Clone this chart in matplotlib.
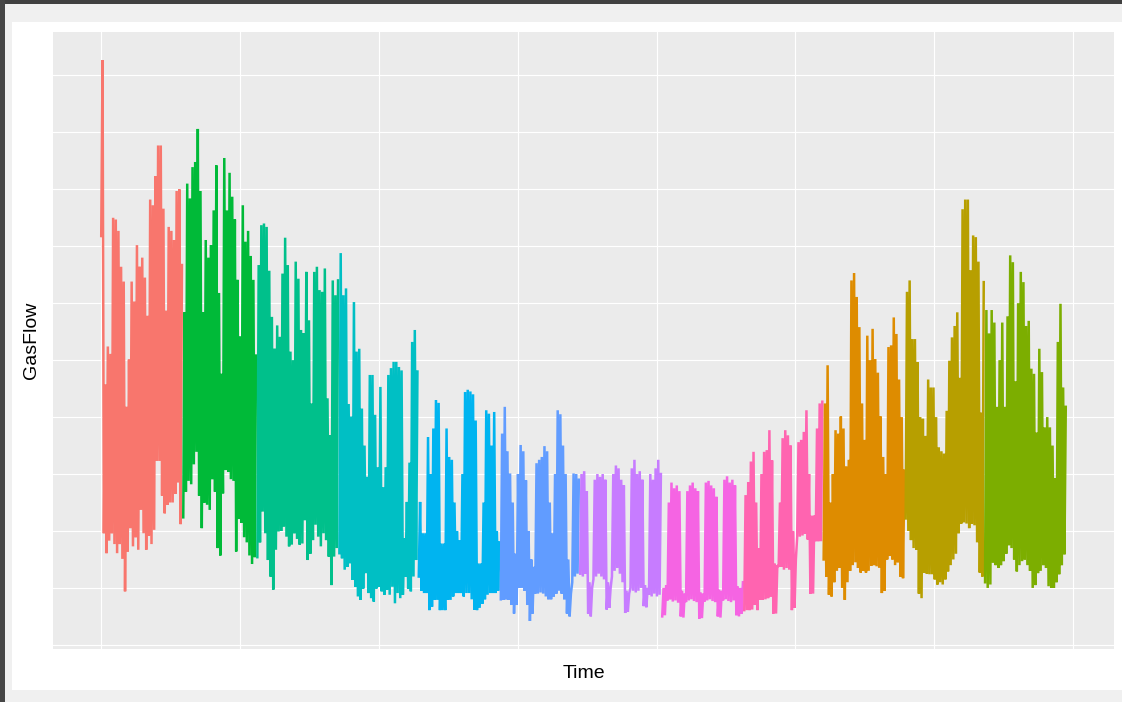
import matplotlib
matplotlib.use("Agg")
import matplotlib.pyplot as plt
from matplotlib.patches import Rectangle
import numpy as np

plt.rcParams['font.family'] = ['Liberation Sans', 'DejaVu Sans']

# daily lows / highs of gas flow, one list per month
jan_low = [718, 196, 161, 183, 196, 177, 161, 177, 151, 94, 164, 205, 173, 189, 167, 237,
           196, 167, 192, 177, 202, 323, 323, 262, 231, 246, 250, 250, 265, 285, 212]
jan_high = [1027, 457, 524, 511, 750, 747, 727, 664, 638, 418, 501, 638, 603, 702, 664, 680,
            645, 578, 782, 772, 823, 877, 877, 766, 587, 734, 727, 711, 797, 800, 667]
feb_low = [224, 269, 288, 282, 317, 339, 262, 205, 250, 246, 237, 291, 269, 170, 157, 266,
           307, 304, 291, 288, 164, 221, 214, 189, 180, 157, 142, 154]
feb_high = [584, 810, 784, 839, 848, 906, 797, 584, 711, 680, 702, 763, 842, 618, 476, 855,
            763, 829, 787, 747, 641, 542, 772, 708, 727, 683, 641, 508]
mar_low = [154, 180, 234, 196, 149, 120, 97, 167, 199, 200, 208, 190, 173, 176, 196, 186,
           176, 178, 219, 149, 160, 184, 211, 190, 173, 196, 184, 155, 105, 155, 170]
mar_high = [667, 737, 740, 734, 657, 576, 520, 561, 541, 652, 715, 667, 515, 500, 673, 643,
            553, 547, 655, 570, 424, 655, 664, 623, 620, 661, 433, 368, 640, 614, 640]
apr_low = [161, 152, 132, 137, 143, 114, 102, 85, 79, 99, 126, 91, 82, 76, 99, 102,
           94, 88, 97, 88, 102, 73, 91, 82, 88, 120, 99, 94, 120, 149]
apr_high = [688, 614, 626, 423, 401, 602, 515, 520, 415, 350, 295, 474, 474, 404, 312, 453,
            277, 312, 474, 486, 497, 497, 488, 482, 187, 251, 320, 532, 553, 480]
may_low = [120, 95, 91, 91, 61, 67, 79, 79, 61, 61, 61, 79, 79, 85, 91, 91,
           91, 85, 91, 91, 80, 62, 61, 65, 72, 80, 88, 91, 91, 91, 95]
may_high = [251, 196, 196, 365, 300, 380, 430, 425, 178, 178, 380, 330, 325, 250, 200, 184,
            300, 444, 448, 445, 440, 394, 143, 143, 250, 412, 406, 350, 409, 200, 180]
jun_low = [80, 79, 80, 79, 70, 55, 70, 100, 100, 95, 70, 42, 55, 90, 90,
           92, 90, 85, 80, 80, 85, 90, 95, 90, 80, 55, 50, 110, 120, 125]
jun_high = [371, 418, 340, 301, 250, 160, 300, 351, 340, 289, 200, 150, 137, 319, 325,
            330, 349, 340, 250, 196, 300, 412, 405, 350, 300, 150, 90, 301, 300, 290]
jul_low = [125, 120, 125, 55, 50, 115, 120, 125, 120, 115, 62, 65, 120, 130, 135, 125,
           110, 56, 58, 100, 95, 92, 95, 100, 68, 66, 88, 85, 90, 85, 88]
jul_high = [300, 305, 270, 110, 100, 290, 300, 295, 300, 290, 110, 100, 300, 315, 310, 290,
            280, 95, 90, 310, 325, 300, 305, 290, 105, 100, 300, 290, 310, 325, 300]
aug_low = [50, 52, 78, 80, 76, 78, 74, 50, 48, 75, 78, 80, 77, 75, 46, 47,
           76, 78, 80, 77, 75, 50, 48, 78, 80, 77, 75, 78, 52, 50, 55]
aug_high = [100, 105, 250, 285, 275, 280, 270, 95, 90, 270, 280, 285, 275, 270, 92, 90,
            285, 288, 280, 275, 260, 97, 95, 290, 296, 285, 290, 280, 103, 100, 110]
sep_low = [61, 61, 61, 62, 70, 61, 79, 79, 80, 82, 85, 55, 55, 137, 137,
           132, 135, 132, 61, 65, 190, 190, 192, 195, 185, 90, 90, 182, 182, 182]
sep_high = [263, 286, 322, 339, 250, 170, 300, 339, 342, 377, 324, 143, 140, 250, 363,
            377, 368, 350, 200, 150, 356, 360, 374, 412, 300, 227, 227, 380, 424, 427]
oct_low = [150, 120, 88, 85, 110, 130, 135, 100, 79, 110, 130, 140, 145, 135, 127, 130,
           127, 130, 139, 140, 138, 136, 91, 95, 150, 156, 150, 140, 145, 120, 117]
oct_high = [424, 491, 250, 300, 377, 371, 401, 380, 313, 325, 640, 653, 611, 558, 424, 360,
            543, 500, 555, 502, 478, 401, 330, 300, 523, 526, 575, 546, 466, 400, 306]
nov_low = [222, 200, 184, 170, 167, 90, 82, 127, 125, 124, 124, 115, 106, 110, 106,
           115, 129, 140, 150, 160, 196, 213, 215, 213, 205, 213, 210, 180, 127, 120]
nov_high = [620, 640, 537, 537, 496, 400, 397, 367, 466, 452, 452, 400, 347, 340, 336,
            411, 499, 540, 560, 584, 469, 765, 782, 782, 658, 719, 716, 673, 408, 637]
dec_low = [110, 100, 106, 144, 140, 135, 140, 147, 160, 175, 170, 150, 129, 140, 147, 150,
           140, 130, 100, 105, 126, 130, 140, 135, 103, 100, 100, 110, 124, 140, 159]
dec_high = [588, 547, 588, 566, 418, 500, 566, 418, 577, 684, 672, 463, 600, 655, 637, 560,
            569, 485, 476, 373, 520, 479, 382, 400, 382, 350, 293, 532, 599, 452, 418]

lows = [jan_low, feb_low, mar_low, apr_low, may_low, jun_low,
        jul_low, aug_low, sep_low, oct_low, nov_low, dec_low]
highs = [jan_high, feb_high, mar_high, apr_high, may_high, jun_high,
         jul_high, aug_high, sep_high, oct_high, nov_high, dec_high]
month_colors = ['#F8766D', '#00BA38', '#00C08B', '#00BFC4', '#00B4F0', '#619CFF',
                '#C77CFF', '#F564E3', '#FF64B0', '#DE8C00', '#B79F00', '#7CAE00']

W, H = 1122, 702
fig = plt.figure(figsize=(W / 100, H / 100), dpi=100)
fig.patch.set_facecolor('#F0F0F0')


def px_rect(x0, y0, x1, y1, color, z):
    fig.add_artist(Rectangle((x0 / W, 1 - y1 / H), (x1 - x0) / W, (y1 - y0) / H,
                             transform=fig.transFigure, facecolor=color,
                             edgecolor='none', zorder=z))


# page frame around the plot
px_rect(12, 22, W, 690, 'white', 0)
px_rect(0, 0, W, 3.7, '#404040', 1)
px_rect(0, 0, 5, H, '#464646', 1)

ax = fig.add_axes([53 / W, (H - 649) / H, 1061 / W, 617 / H])
ax.set_facecolor('#EBEBEB')
for s in ax.spines.values():
    s.set_visible(False)

start = 0
for lo, hi, col in zip(lows, highs, month_colors):
    n = len(lo)
    days = start + np.arange(n)
    xs = np.empty(2 * n)
    ys = np.empty(2 * n)
    xs[0::2] = days
    xs[1::2] = days + 0.5
    ys[0::2] = lo
    ys[1::2] = hi
    ax.plot(xs, ys, color=col, lw=1.8, solid_joinstyle='bevel', zorder=3)
    start += n

# ggplot-like 5% expansion
allv = np.concatenate([np.concatenate(lows), np.concatenate(highs)])
x0, x1 = 0, start - 0.5
y0, y1 = allv.min(), allv.max()
ax.set_xlim(x0 - 0.05 * (x1 - x0), x1 + 0.05 * (x1 - x0))
ax.set_ylim(y0 - 0.05 * (y1 - y0), y1 + 0.05 * (y1 - y0))

ax.set_xticks(np.arange(8) * 52.47)
ax.set_yticks(np.arange(0, 1001, 100))
ax.grid(True, color='white', lw=0.85)
ax.set_axisbelow(True)
ax.tick_params(length=0, labelbottom=False, labelleft=False)

ax.set_xlabel('Time', fontsize=14, labelpad=11.5)
ax.set_ylabel('GasFlow', fontsize=14, labelpad=9.5)

fig.savefig('out.png', dpi=100, facecolor=fig.get_facecolor())
